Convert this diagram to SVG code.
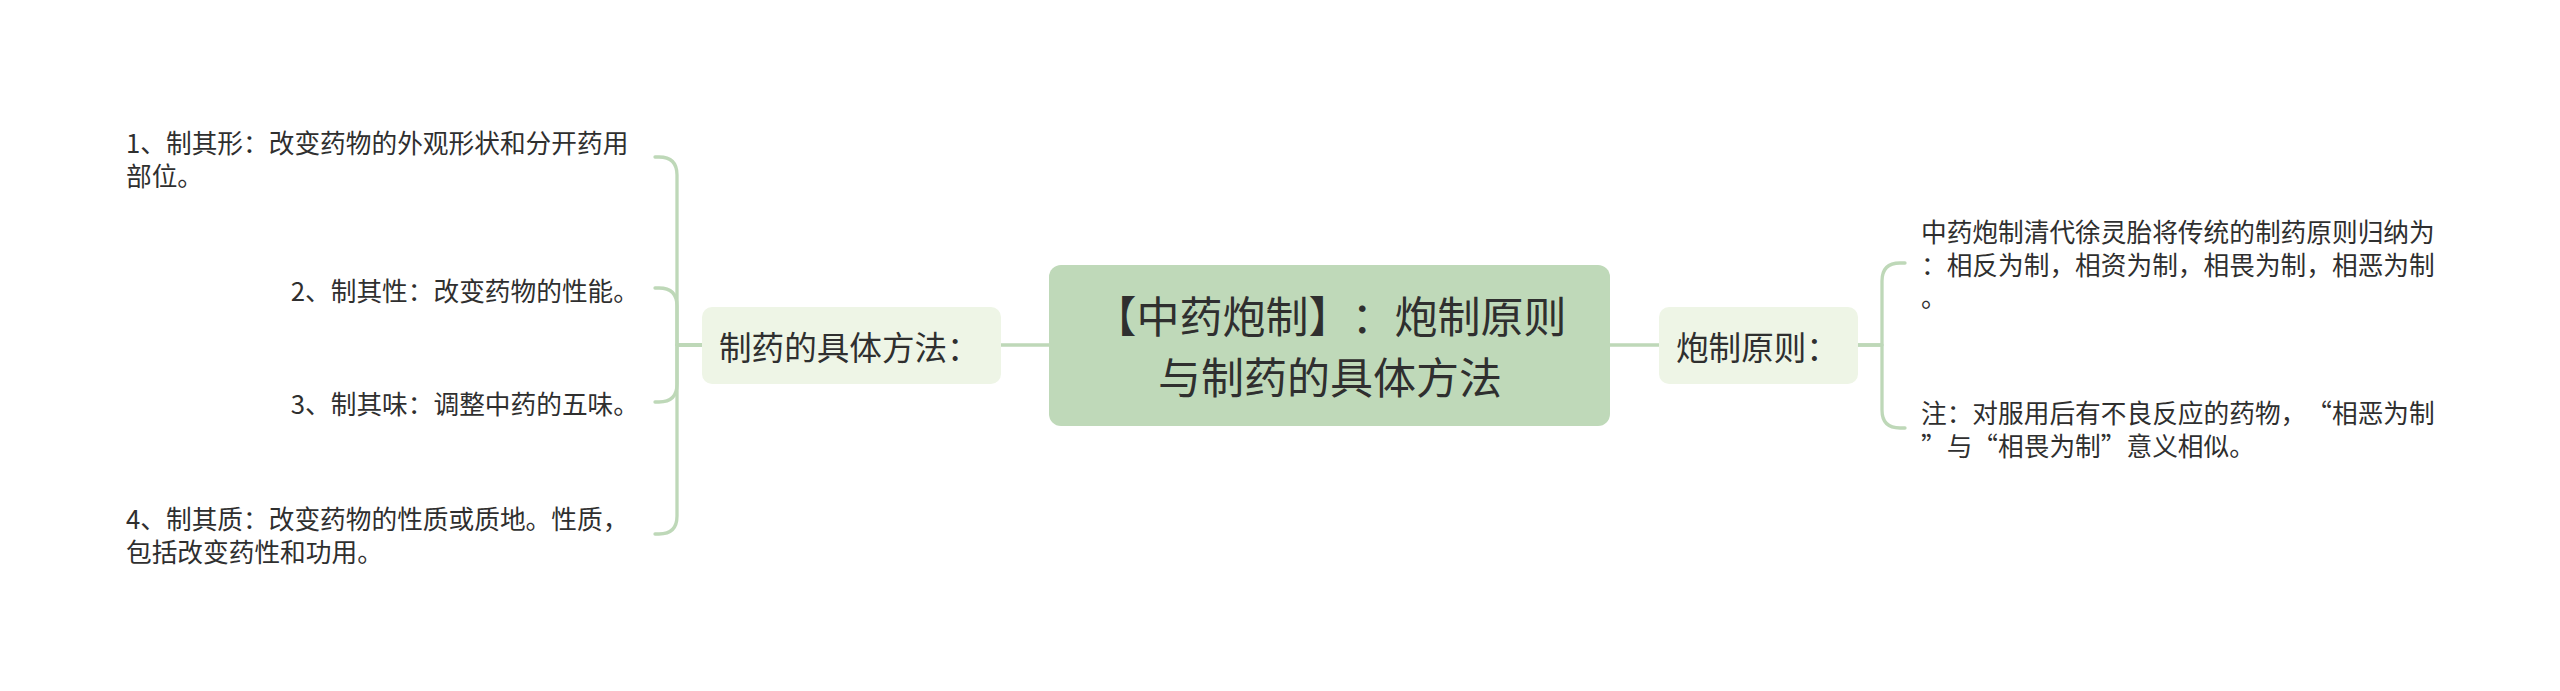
<svg xmlns="http://www.w3.org/2000/svg" width="2560" height="691" viewBox="0 0 2560 691">
<style>
text{font-family:"Noto Sans CJK SC","Noto Sans",sans-serif;fill:#2f2f2f;dominant-baseline:central;text-spacing-trim:space-all;font-feature-settings:"halt" 0,"chws" 0}
.leaf{font-size:25.7px}
.branch{font-size:32.6px}
.center{font-size:43px}
.conn{fill:none;stroke:#bed8b8;stroke-width:3.3;stroke-linecap:round;stroke-linejoin:round}
.bbox{fill:#eef5e6}
</style>
<rect width="2560" height="691" fill="#ffffff"/>
<g id="connectors">
<path class="conn" d="M1001 345 H1049"/>
<path class="conn" d="M1610 345 H1659"/>
<path class="conn" d="M702 345 H677 V175 Q677 157 659 157 H655"/>
<path class="conn" d="M702 345 H677 V306 Q677 288 659 288 H655"/>
<path class="conn" d="M702 345 H677 V384 Q677 402 659 402 H655"/>
<path class="conn" d="M702 345 H677 V516 Q677 534 659 534 H655"/>
<path class="conn" d="M1858 345 H1882 V281 Q1882 263 1900 263 H1905"/>
<path class="conn" d="M1858 345 H1882 V410 Q1882 428 1900 428 H1905"/>
</g>
<g id="root">
<rect x="1049" y="265" width="561" height="161" rx="12" fill="#bfd9b9"/>
<text class="center" x="1330" y="314" text-anchor="middle">【中药炮制】：炮制原则</text>
<text class="center" x="1330" y="375" text-anchor="middle">与制药的具体方法</text>
</g>
<g id="branch-left">
<rect class="bbox" x="702" y="307" width="299" height="77" rx="10"/>
<text class="branch" x="719" y="345">制药的具体方法：</text>
</g>
<g id="branch-right">
<rect class="bbox" x="1659" y="307" width="199" height="77" rx="10"/>
<text class="branch" x="1676" y="345">炮制原则：</text>
</g>
<g id="leaf-1">
<text class="leaf" x="126" y="141.5">1、制其形：改变药物的外观形状和分开药用</text>
<text class="leaf" x="126" y="174">部位。</text>
</g>
<g id="leaf-2">
<text class="leaf" x="639" y="289" text-anchor="end">2、制其性：改变药物的性能。</text>
</g>
<g id="leaf-3">
<text class="leaf" x="639" y="402" text-anchor="end">3、制其味：调整中药的五味。</text>
</g>
<g id="leaf-4">
<text class="leaf" x="126" y="517.7">4、制其质：改变药物的性质或质地。性质，</text>
<text class="leaf" x="126" y="550.3">包括改变药性和功用。</text>
</g>
<g id="leaf-5">
<text class="leaf" x="1921" y="230.5">中药炮制清代徐灵胎将传统的制药原则归纳为</text>
<text class="leaf" x="1921" y="263">：相反为制，相资为制，相畏为制，相恶为制</text>
<text class="leaf" x="1921" y="295.5">。</text>
</g>
<g id="leaf-6">
<text class="leaf" x="1921" y="411.7">注：对服用后有不良反应的药物，“相恶为制</text>
<text class="leaf" x="1921" y="444.3">”与“相畏为制”意义相似。</text>
</g>
</svg>
